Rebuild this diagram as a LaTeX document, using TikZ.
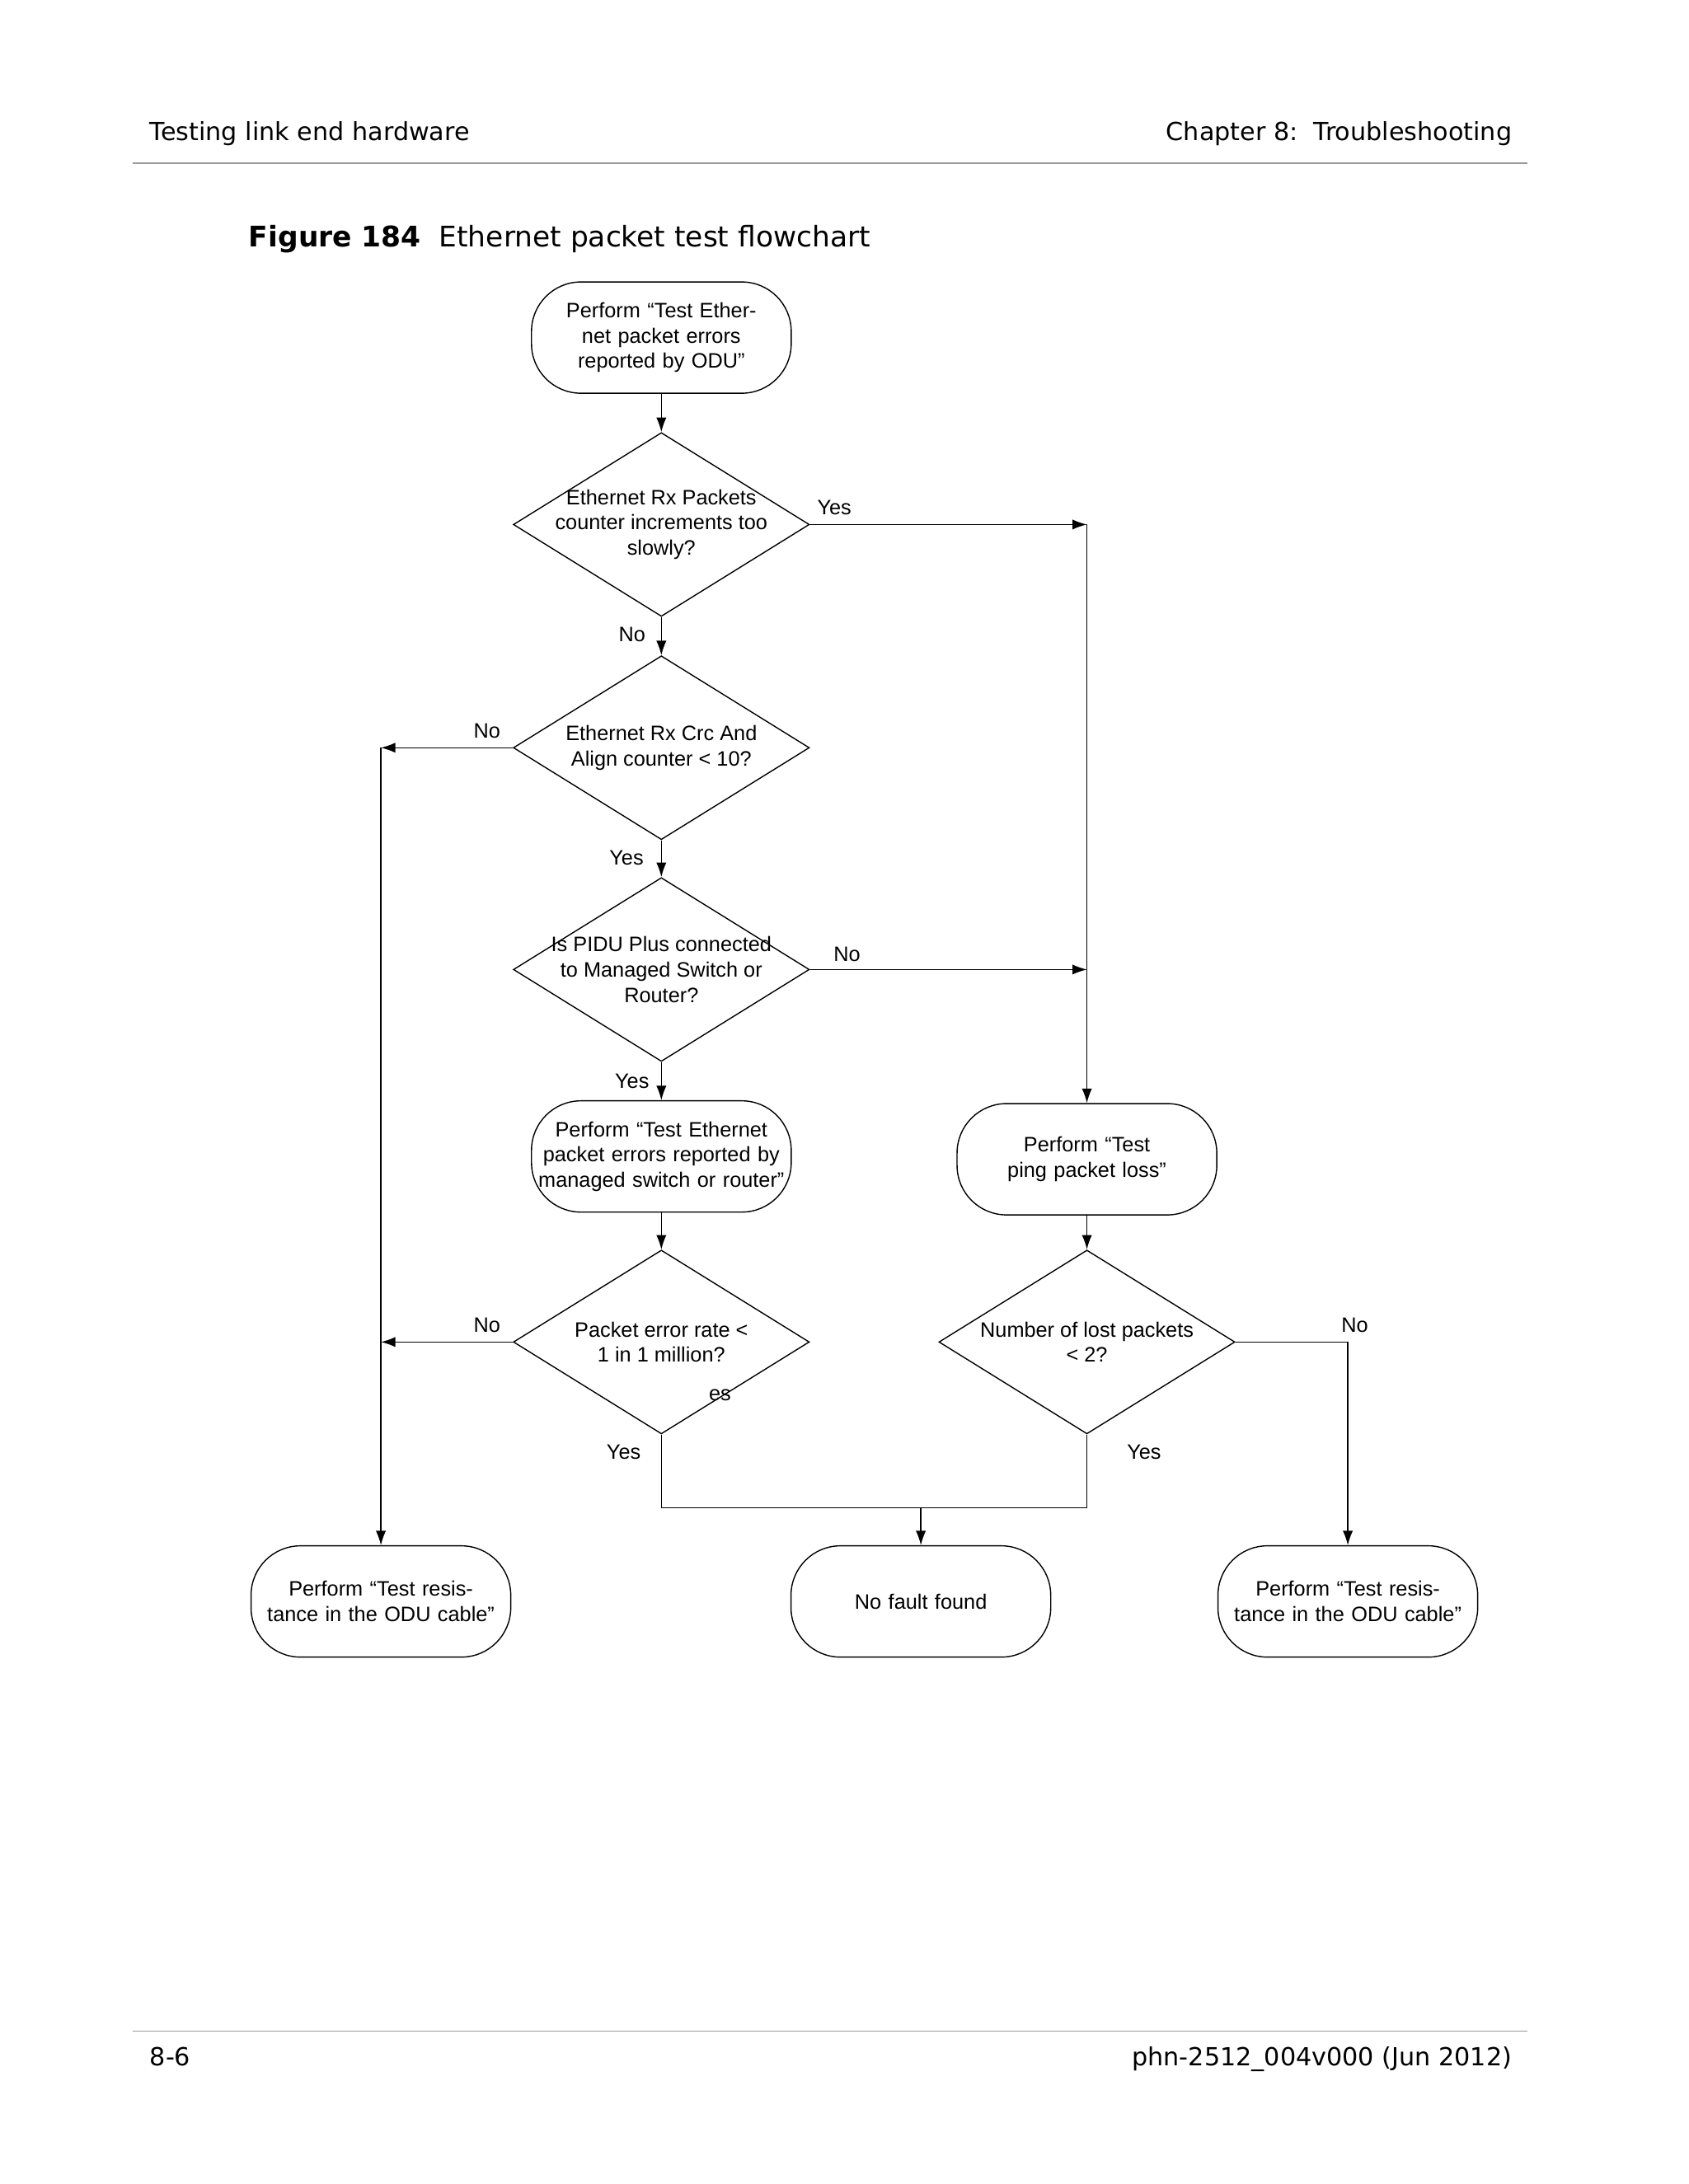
\documentclass[tikz,border=0pt]{standalone}
\usepackage{fontspec}
\setmainfont{Liberation Sans}
\newfontfamily\headfont{DejaVu Sans}
\usetikzlibrary{shapes.geometric,arrows.meta}

\tikzstyle{terminal} = [draw, rectangle, rounded corners=0.6cm, minimum width=3.15cm, minimum height=1.35cm, text width=3.1cm, align=center, inner sep=0pt, font=\fontsize{7.2}{8.7}\selectfont]
\tikzstyle{decision} = [draw, diamond, minimum width=3.59cm, minimum height=2.23cm, inner sep=0pt]
\tikzstyle{flow} = [draw, line width=0.4pt, -{Latex[length=5pt,width=3.5pt]}]
\tikzstyle{link} = [draw, line width=0.4pt, -]
\tikzstyle{answer} = [font=\fontsize{7.2}{8.7}\selectfont, inner sep=0pt]

\begin{document}
\begin{tikzpicture}[x=0.016926cm, y=-0.016926cm, line width=0.4pt]
    \useasboundingbox (0,0) rectangle (1210,1565.6);

    % page header and footer
    \node[anchor=base west, inner sep=0pt, font=\headfont\fontsize{8.6}{10}\selectfont] (head) at (107,101) {Testing link end hardware};
    \node[anchor=base east, inner sep=0pt, font=\headfont\fontsize{8.6}{10}\selectfont] (chap) at (1084,101) {Chapter 8:\ \ Troubleshooting};
    \draw[black!40] (95,117) -- (1095,117);
    \node[anchor=base west, inner sep=0pt, font=\headfont\fontsize{9.8}{11}\selectfont] (caption) at (178,177) {\textbf{Figure 184}\ \ Ethernet packet test flowchart};
    \draw[black!40] (95,1456) -- (1095,1456);
    \node[anchor=base west, inner sep=0pt, font=\headfont\fontsize{8.6}{10}\selectfont] (page) at (107,1481) {8-6};
    \node[anchor=base east, inner sep=0pt, font=\headfont\fontsize{8.6}{10}\selectfont] (doc) at (1084,1481) {phn-2512\_004v000 (Jun 2012)};

    % The terminals
    \foreach \pos/\name/\txt in {{(474,242)/start/Perform “Test Ethernet packet errors reported by ODU”},
        {(474,829)/switch/Perform “Test Ethernet packet errors reported by managed switch or router”},
        {(779,831)/ping/Perform “Test ping packet loss”},
        {(273,1148)/resA/Perform “Test resistance in the ODU cable”},
        {(660,1148)/nofault/No fault found},
        {(966,1148)/resB/Perform “Test resistance in the ODU cable”}} {
      \node[terminal] (\name) at \pos {\txt};
    }

    % The decisions
    \foreach \pos/\name/\txt in {{(474,376)/rx/Ethernet Rx Packets\\counter increments too\\slowly?},
        {(474,536)/crc/Ethernet Rx Crc And\\Align counter < 10?},
        {(474,695)/pidu/Is PIDU Plus connected\\to Managed Switch or\\Router?},
        {(474,962)/rate/Packet error rate <\\1 in 1 million?},
        {(779,962)/lost/Number of lost packets\\< 2?}} {
      \node[decision, label={[answer, align=center]center:\txt}] (\name) at \pos {};
    }

    % free ends of the connectors
    \coordinate (rxR) at (779,376);
    \coordinate (pidR) at (779,695);
    \coordinate (crcL) at (273,536);
    \coordinate (rateL) at (273,962);
    \coordinate (lostR) at (966,962);
    \coordinate (joinL) at (474,1081);
    \coordinate (joinR) at (779,1081);
    \coordinate (joinM) at (660,1081);

    % The connections between them
    \foreach \source/\sink in {start/rx, rx/crc, crc/pidu, pidu/switch, switch/rate, ping/lost} {
      \path[flow] (\source) -- (\sink);
    }
    \path[flow] (rx.east) -- (rxR);
    \path[flow] (rxR) -- (ping.north);
    \path[flow] (pidu.east) -- (pidR);
    \path[flow] (crc.west) -- (crcL);
    \path[flow] (crcL) -- (resA.north);
    \path[flow] (rate.west) -- (rateL);
    \path[flow] (lost.east) -- (lostR) -- (resB.north);
    \path[link] (rate.south) -- (joinL) -- (joinR) -- (lost.south);
    \path[flow] (joinM) -- (nofault.north);

    % the answers
    \foreach \pos/\name/\txt in {{(598,364)/yesA/Yes}, {(453,455)/noA/No}, {(349,524)/noB/No},
        {(449,615)/yesB/Yes}, {(607,684)/noC/No}, {(453,775)/yesC/Yes}, {(349,950)/noD/No},
        {(447,1041)/yesD/Yes}, {(516,1000)/yesE/es}, {(820,1041)/yesF/Yes}, {(971,950)/noE/No}} {
      \node[answer] (\name) at \pos {\txt};
    }
\end{tikzpicture}
\end{document}
